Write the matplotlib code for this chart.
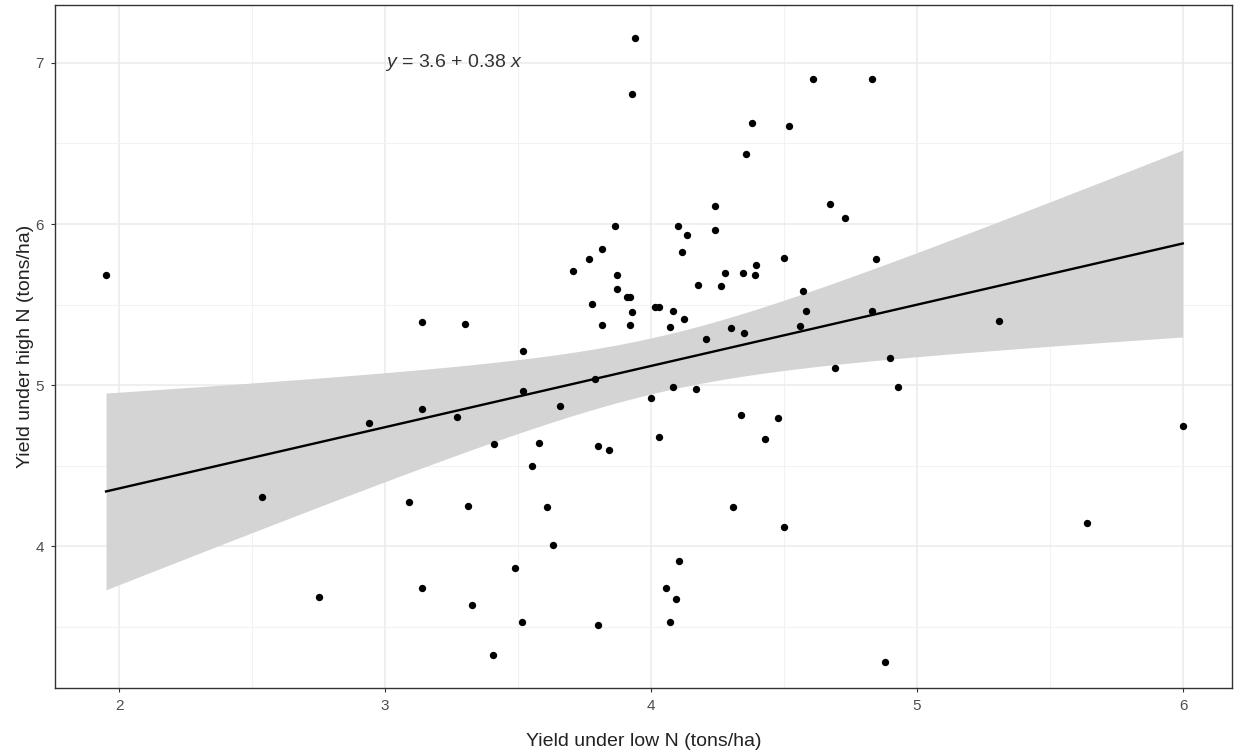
import numpy as np
import matplotlib.pyplot as plt

plt.rcParams['font.family'] = ['Liberation Sans', 'DejaVu Sans']
plt.rcParams['mathtext.fontset'] = 'custom'
plt.rcParams['mathtext.rm'] = 'Liberation Sans'
plt.rcParams['mathtext.it'] = 'Liberation Sans:italic'

# yield per genotype under low N (x) and high N (y), tons/ha
low_n = [1.951, 2.539, 2.752, 2.941, 3.090, 3.138, 3.138, 3.138, 3.270, 3.301,
         3.311, 3.328, 3.406, 3.410, 3.489, 3.514, 3.518, 3.518, 3.551, 3.578,
         3.610, 3.630, 3.658, 3.708, 3.768, 3.777, 3.790, 3.800, 3.802, 3.815,
         3.815, 3.840, 3.864, 3.871, 3.871, 3.908, 3.921, 3.919, 3.927, 3.927,
         3.939, 4.001, 4.015, 4.030, 4.030, 4.055, 4.071, 4.071, 4.082, 4.082,
         4.095, 4.103, 4.105, 4.117, 4.122, 4.135, 4.169, 4.178, 4.207, 4.240,
         4.241, 4.262, 4.278, 4.300, 4.309, 4.337, 4.347, 4.350, 4.357, 4.381,
         4.391, 4.395, 4.429, 4.479, 4.500, 4.500, 4.519, 4.560, 4.570, 4.583,
         4.608, 4.671, 4.692, 4.730, 4.832, 4.832, 4.846, 4.880, 4.898, 4.929,
         5.308, 5.640, 5.999]
high_n = [5.685, 4.305, 3.689, 4.768, 4.278, 5.391, 4.851, 3.744, 4.805, 5.382,
          4.251, 3.637, 3.327, 4.636, 3.868, 3.530, 5.213, 4.967, 4.499, 4.644,
          4.243, 4.011, 4.873, 5.711, 5.784, 5.506, 5.040, 3.513, 4.625, 5.846,
          5.374, 4.600, 5.988, 5.684, 5.596, 5.546, 5.546, 5.374, 5.453, 6.807,
          7.153, 4.919, 5.484, 5.488, 4.681, 3.744, 5.360, 3.530, 5.463, 4.992,
          3.672, 5.988, 3.912, 5.827, 5.409, 5.932, 4.975, 5.622, 5.286, 5.962,
          6.112, 5.616, 5.695, 5.357, 4.243, 4.814, 5.695, 5.323, 6.433, 6.625,
          5.682, 5.746, 4.667, 4.795, 5.792, 4.119, 6.609, 5.368, 5.587, 5.463,
          6.900, 6.123, 5.105, 6.040, 6.900, 5.463, 5.782, 3.282, 5.168, 4.991,
          5.399, 4.144, 4.749]

# fitted line
intercept = 3.6
slope = 0.38
t_crit = 1.986  # 95% two-sided, df = n - 2

x = np.array(low_n)
y = np.array(high_n)
n = len(x)

xs = np.linspace(x.min(), x.max(), 200)
fit = intercept + slope * xs
resid = y - (intercept + slope * x)
s = np.sqrt(np.sum(resid ** 2) / (n - 2))
sxx = np.sum((x - x.mean()) ** 2)
se = s * np.sqrt(1.0 / n + (xs - x.mean()) ** 2 / sxx)

fig = plt.figure(figsize=(12.37, 7.52), dpi=100)
ax = fig.add_axes([55 / 1237, 1 - 688 / 752, (1232 - 55) / 1237, (688 - 5) / 752])

ax.set_xlim(1.759, 6.184)
ax.set_ylim(3.122, 7.359)

ax.set_xticks([2, 3, 4, 5, 6])
ax.set_yticks([4, 5, 6, 7])
ax.set_xticks(np.arange(2.5, 6.0, 1.0), minor=True)
ax.set_yticks(np.arange(3.5, 7.0, 1.0), minor=True)
ax.grid(which='major', color='#EBEBEB', linewidth=1.1)
ax.grid(which='minor', color='#F2F2F2', linewidth=0.8)
ax.set_axisbelow(True)

ax.fill_between(xs, fit - t_crit * se, fit + t_crit * se, color='#D4D4D4', lw=0, zorder=2)
ax.plot(xs, fit, color='black', lw=1.7, zorder=3)
ax.scatter(x, y, s=28, color='black', lw=0, zorder=4)

ax.text(3.0, 7.0, r'$y$ = %.1f + %.2f $x$' % (intercept, slope),
        ha='left', va='center', fontsize=14, color='#333333')

for sp in ax.spines.values():
    sp.set_color('#333333')
    sp.set_linewidth(1.0)
ax.tick_params(which='major', length=3, pad=5, color='#333333', labelcolor='#4D4D4D', labelsize=11)
ax.tick_params(which='minor', length=0)

ax.set_xlabel('Yield under low N (tons/ha)', fontsize=14, color='#222222', labelpad=14)
ax.set_ylabel('Yield under high N (tons/ha)', fontsize=14, color='#222222', labelpad=1)

fig.savefig('out.png', dpi=100)
